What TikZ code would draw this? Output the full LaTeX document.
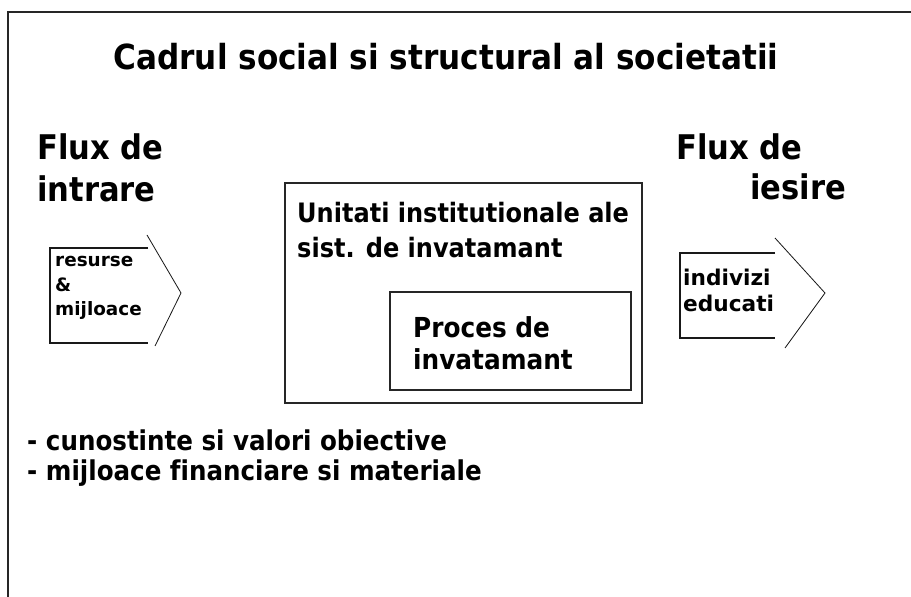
\documentclass[tikz,border=0pt]{standalone}
\usepackage{fontspec}
\setmainfont[Ligatures=NoCommon]{DejaVu Sans Condensed}
\newfontfamily\widefont[Ligatures=NoCommon]{DejaVu Sans}
\usetikzlibrary{positioning}

\begin{document}
\begin{tikzpicture}[
      x=0.03cm, y=-0.03cm,
      frame/.style={line width=1.6pt, draw=black!85},
      box/.style={
         rectangle,
         draw=black!85,
         line width=1.2pt,
         inner sep=0pt
      },
      bracket/.style={draw=black!90, line width=0.9pt},
      chevron/.style={draw=black!90, line width=0.7pt},
      title/.style={anchor=base, font=\bfseries\fontsize{29.5}{35}\selectfont},
      flux/.style={anchor=base west, align=left, inner sep=0pt,
         font=\bfseries\fontsize{29}{36}\selectfont},
      boxtext/.style={anchor=base west, align=left, inner sep=0pt,
         font=\bfseries\fontsize{22.8}{30}\selectfont},
      small/.style={anchor=base west, align=left, inner sep=0pt,
         font=\widefont\bfseries\fontsize{15.7}{21.3}\selectfont},
      medium/.style={anchor=base west, align=left, inner sep=0pt,
         font=\widefont\bfseries\fontsize{18.5}{23}\selectfont},
      list/.style={anchor=base west, align=left, inner sep=0pt,
         font=\bfseries\fontsize{23.3}{25}\selectfont}
    ]
    \useasboundingbox (0,0) rectangle (911,597);
    % outer frame, runs off the picture on the right and below
    \draw[frame] (8,600) -- (8,12) -- (915,12);

    \node (title) [title] at (446,70) {Cadrul social si structural al societatii};

    % multi-line nodes sit on the baseline of their last line
    \node (fluxin) [flux] at (37,202) {Flux de\\intrare};
    \node (fluxout1) [flux] at (676,160) {Flux de};
    \node (fluxout2) [flux] at (750,200) {iesire};

    % flux de intrare
    \coordinate (in1) at (148,248);
    \coordinate (in2) at (50,248);
    \coordinate (in3) at (50,343);
    \coordinate (in4) at (148,343);
    \draw[bracket] (in1) -- (in2) -- (in3) -- (in4);
    \draw[chevron] (147,235) -- (181,293) -- (155,346);
    \node (resurse) [small] at (55,316) {resurse\\\&\\mijloace};

    % flux de iesire
    \coordinate (out1) at (775,253);
    \coordinate (out2) at (680,253);
    \coordinate (out3) at (680,338);
    \coordinate (out4) at (775,338);
    \draw[bracket] (out1) -- (out2) -- (out3) -- (out4);
    \draw[chevron] (775,238) -- (825,293) -- (785,348);
    \node (indivizi) [medium] at (683,312) {indivizi\\educati};

    % unitati institutionale
    \node (unitati) [box, minimum width=10.71cm, minimum height=6.6cm] at (463.5,293) {};
    \node (unitatitext) [boxtext] at (297,258) {Unitati institutionale ale\\sist. de invatamant};
    \node (proces) [box, minimum width=7.23cm, minimum height=2.94cm] at (510.5,341) {};
    \node (procestext) [boxtext, font=\bfseries\fontsize{23.5}{28}\selectfont] at (413,370) {Proces de\\invatamant};

    \node (lista) [list] at (27,480) {- cunostinte si valori obiective\\- mijloace financiare si materiale};
\end{tikzpicture}
\end{document}
